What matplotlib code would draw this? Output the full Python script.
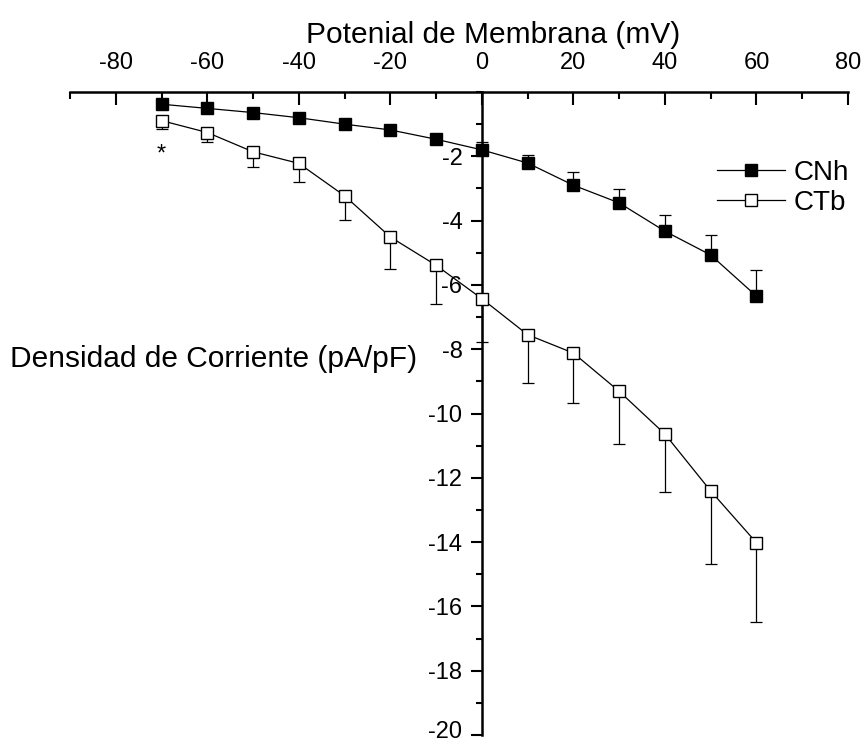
import numpy as np
import matplotlib
matplotlib.use("Agg")
import matplotlib.pyplot as plt
import matplotlib.transforms as mtransforms
from matplotlib.ticker import MultipleLocator

plt.rcParams['font.family'] = ['Liberation Sans', 'DejaVu Sans']
plt.rcParams['axes.unicode_minus'] = False

# data
voltaje = [-70, -60, -50, -40, -30, -20, -10, 0, 10, 20, 30, 40, 50, 60]
cnh = [-0.38, -0.51, -0.64, -0.80, -1.00, -1.18, -1.47, -1.80, -2.21, -2.90, -3.45, -4.33, -5.07, -6.35]
cnh_err = [0.1, 0.1, 0.1, 0.1, 0.1, 0.1, 0.12, 0.26, 0.26, 0.40, 0.44, 0.51, 0.62, 0.80]
ctb = [-0.89, -1.26, -1.86, -2.22, -3.23, -4.51, -5.39, -6.43, -7.55, -8.12, -9.31, -10.64, -12.41, -14.02]
ctb_err = [0.26, 0.31, 0.48, 0.59, 0.75, 0.99, 1.19, 1.35, 1.51, 1.55, 1.63, 1.79, 2.26, 2.48]
x_ticks = [-80, -60, -40, -20, 0, 20, 40, 60, 80]
y_ticks = [-20, -18, -16, -14, -12, -10, -8, -6, -4, -2]

W, H = 865, 744
fig = plt.figure(figsize=(W / 100, H / 100), dpi=100)
ax = fig.add_axes([70 / W, 9 / H, 778 / W, 643 / H])

zeros = np.zeros(len(voltaje))

# error bars first (one-sided), markers drawn over them
ax.errorbar(voltaje, cnh, yerr=[zeros, cnh_err], fmt='none', ecolor='black',
            elinewidth=0.9, capsize=4.5, capthick=0.9, zorder=2)
ax.errorbar(voltaje, ctb, yerr=[ctb_err, zeros], fmt='none', ecolor='black',
            elinewidth=0.9, capsize=4.5, capthick=0.9, zorder=2)

ax.plot(voltaje, cnh, color='black', lw=0.9, marker='s', markersize=8.5,
        markerfacecolor='black', markeredgecolor='black', label='CNh', zorder=3)
ax.plot(voltaje, ctb, color='black', lw=0.9, marker='s', markersize=8.5,
        markerfacecolor='white', markeredgecolor='black', markeredgewidth=1.0,
        label='CTb', zorder=3)

ax.text(-70, -1.95, '*', fontsize=17, ha='center', va='center')

ax.set_xlim(-90, 80)
ax.set_ylim(-20, 0)

# axes cross: x axis on top (y = 0), y axis at x = 0
ax.spines['left'].set_position(('data', 0))
ax.spines['right'].set_visible(False)
ax.spines['bottom'].set_visible(False)
ax.spines['top'].set_linewidth(1.8)
ax.spines['left'].set_linewidth(1.8)

ax.xaxis.set_ticks_position('top')
ax.xaxis.set_label_position('top')
ax.set_xticks(x_ticks)
ax.xaxis.set_minor_locator(MultipleLocator(10))
ax.tick_params(axis='x', which='major', direction='in', length=9, width=1.5,
               labelsize=17, pad=13)
ax.tick_params(axis='x', which='minor', direction='in', length=5, width=1.5)

ax.set_yticks(y_ticks)
ax.yaxis.set_minor_locator(MultipleLocator(1))
ax.tick_params(axis='y', which='major', direction='out', length=8, width=1.5,
               labelsize=17, pad=6)
ax.tick_params(axis='y', which='minor', direction='out', length=4.5, width=1.5)

# lift the bottom label a little so it stays inside the picture
lbl = ax.get_yticklabels()[0]
lbl.set_transform(lbl.get_transform() +
                  mtransforms.ScaledTranslation(0, 4 / 72, fig.dpi_scale_trans))

ax.set_xlabel('Potenial de Membrana (mV)', fontsize=21.5)
ax.xaxis.set_label_coords(0.544, 1.076)
ax.set_ylabel('Densidad de Corriente (pA/pF)', fontsize=21.5, rotation=0,
              ha='right', va='baseline')
ax.yaxis.set_label_coords(0.446, 0.572)

ax.legend(loc='center left', bbox_to_anchor=(717 / W, 1 - 188 / H),
          bbox_transform=fig.transFigure, frameon=False, fontsize=20,
          handlelength=2.45, handletextpad=0.3, borderpad=0, borderaxespad=0,
          labelspacing=0.15)

fig.savefig('out.png', dpi=100)
